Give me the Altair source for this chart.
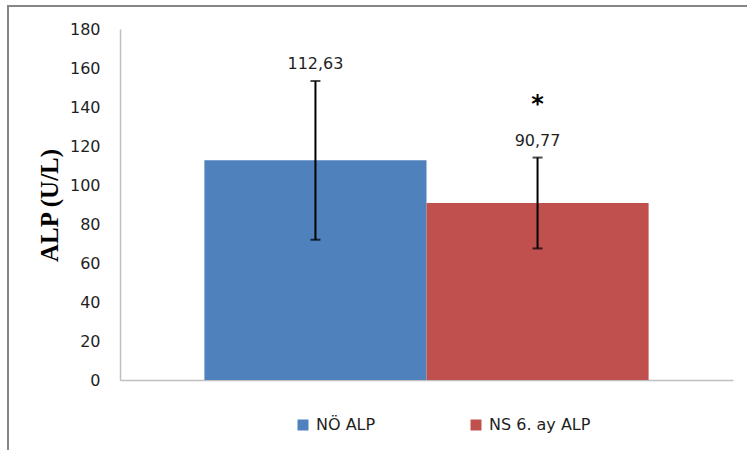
import altair as alt
import pandas as pd

groups = ["NÖ ALP", "NS 6. ay ALP"]
means = [112.63, 90.77]
sds = [40.7, 23.3]
stars = ["", "*"]
colors = ["#4F81BD", "#C0504D"]
y_ticks = [0, 20, 40, 60, 80, 100, 120, 140, 160, 180]

df = pd.DataFrame({
    "group": groups,
    "mean": means,
    "low": [m - s for m, s in zip(means, sds)],
    "high": [m + s for m, s in zip(means, sds)],
    "label": [f"{m:.2f}".replace(".", ",") for m in means],
    "star": stars,
})

FONT = "DejaVu Sans"
TXT = "#1f1f1f"

xscale = alt.Scale(domain=groups, paddingInner=0, paddingOuter=0.38)
yscale = alt.Scale(domain=[0, 180], nice=False, zero=True)

xaxis = alt.Axis(labels=False, ticks=False, title=None, domainColor="#BFBFBF", domainWidth=1.5)
yaxis = alt.Axis(values=y_ticks, grid=False, ticks=False, domainColor="#BFBFBF", domainWidth=1.5,
                 labelPadding=20, labelFont=FONT, labelFontSize=16, labelColor=TXT,
                 labelOverlap=False,
                 title="ALP (U/L)", titleFont="Liberation Serif", titleFontSize=25,
                 titleFontWeight="bold", titleColor="#000000", titleAngle=270,
                 titleBaseline="middle", titleAlign="center", titleX=-71, titleY=176)

base = alt.Chart(df)

bars = base.mark_bar().encode(
    x=alt.X("group:N", scale=xscale, axis=xaxis),
    y=alt.Y("mean:Q", scale=yscale, axis=yaxis),
    color=alt.Color("group:N", scale=alt.Scale(domain=groups, range=colors),
                    legend=alt.Legend(orient="none", legendX=175, legendY=388, direction="horizontal",
                                      title=None, symbolType="square", symbolSize=121,
                                      symbolStrokeWidth=0, symbolOpacity=1, labelFont=FONT,
                                      labelFontSize=16, labelColor=TXT, labelOffset=5,
                                      columnPadding=92, padding=0)),
)

err = base.mark_errorbar(ticks=True, size=10, thickness=2, color="black").encode(
    x=alt.X("group:N", scale=xscale, axis=xaxis),
    y=alt.Y("low:Q", scale=yscale, axis=yaxis),
    y2="high:Q",
)

labels = base.mark_text(font=FONT, fontSize=16, color=TXT, baseline="bottom", dy=-9).encode(
    x=alt.X("group:N", scale=xscale, axis=xaxis),
    y=alt.Y("high:Q", scale=yscale, axis=yaxis),
    text="label:N",
)

star = base.mark_text(font=FONT, fontSize=24, fontWeight="bold", color="black",
                      baseline="alphabetic", dy=-46).encode(
    x=alt.X("group:N", scale=xscale, axis=xaxis),
    y=alt.Y("high:Q", scale=yscale, axis=yaxis),
    text="star:N",
)

frame = alt.Chart(df).mark_rect(fill=None, stroke="#868686", strokeWidth=2).encode(
    x=alt.value(-112), x2=alt.value(700), y=alt.value(-23), y2=alt.value(500)
)

chart = alt.layer(frame, bars, err, labels, star).properties(
    width=613, height=351,
    autosize=alt.AutoSizeParams(type="none"),
    padding={"left": 120, "top": 29, "right": 14, "bottom": 70},
    background="white",
).configure_view(stroke=None)

chart.save("out.html", embed_options={"renderer": "svg", "actions": False})
